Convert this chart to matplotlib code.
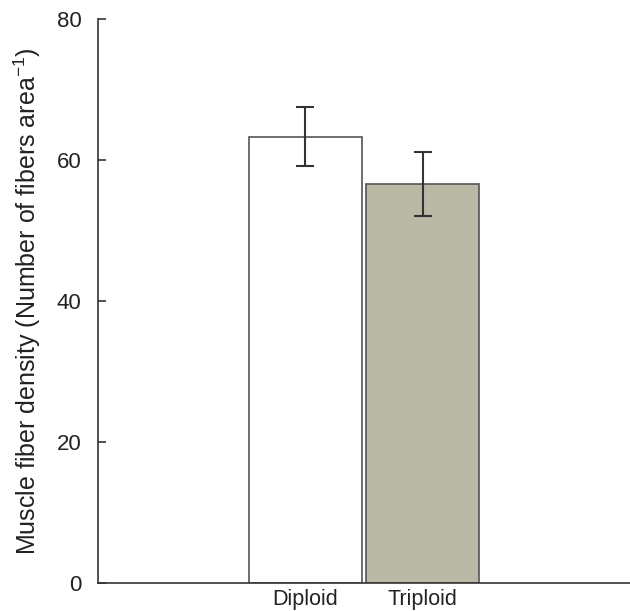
import matplotlib
matplotlib.use("Agg")
import matplotlib.pyplot as plt

categories = ["Diploid", "Triploid"]
values = [63.3, 56.6]
errors = [4.2, 4.6]
colors = ["#ffffff", "#b9b9a5"]
yticks = [0, 20, 40, 60, 80]

plt.rcParams['font.family'] = ['Liberation Sans', 'DejaVu Sans']

fig = plt.figure(figsize=(6.30, 6.11), dpi=100)
ax = fig.add_axes([0.1556, 0.0458, 0.8444, 0.923])

x = list(range(len(categories)))
ax.bar(x, values, width=0.966, color=colors, edgecolor="#555555", linewidth=1.2, zorder=2)
ax.errorbar(x, values, yerr=errors, fmt='none', ecolor="#333333", elinewidth=1.5,
            capsize=6.5, capthick=1.5, zorder=3)

ax.set_xlim(-1.77, 2.77)
ax.set_ylim(0, 80)
ax.set_yticks(yticks)
ax.set_yticklabels([str(t) for t in yticks], fontsize=16, color="#222222")
ax.set_xticks(x)
ax.set_xticklabels(categories, fontsize=15.5, color="#222222")
ax.tick_params(axis='x', length=0, pad=4)
ax.tick_params(axis='y', direction='in', length=6, width=1.2, color="#333333", pad=12)

for s in ['top', 'right']:
    ax.spines[s].set_visible(False)
for s in ['left', 'bottom']:
    ax.spines[s].set_linewidth(1.2)
    ax.spines[s].set_color("#333333")

ax.set_ylabel("Muscle fiber density (Number of fibers area$^{\\mathregular{-1}}$)", fontsize=18,
              color="#222222", labelpad=10)

fig.savefig("out.png", dpi=100)
